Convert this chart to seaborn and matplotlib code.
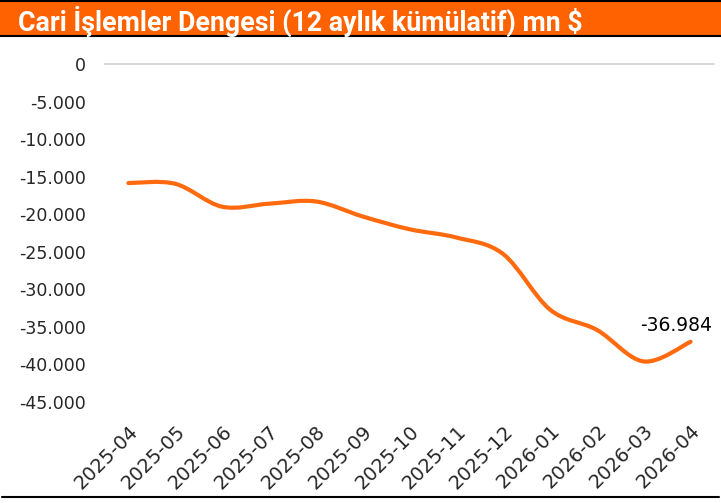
import numpy as np
import pandas as pd
import matplotlib
matplotlib.use("Agg")
import matplotlib.pyplot as plt
import seaborn as sns
from matplotlib.path import Path
from matplotlib.patches import PathPatch, Rectangle
from matplotlib.lines import Line2D
from matplotlib.ticker import FuncFormatter, MultipleLocator

# ---- data ----
months = ["2025-04", "2025-05", "2025-06", "2025-07", "2025-08", "2025-09",
          "2025-10", "2025-11", "2025-12", "2026-01", "2026-02", "2026-03",
          "2026-04"]
balance = [-15850, -15950, -19000, -18600, -18300, -20300,
           -22000, -23100, -25300, -32700, -35400, -39600, -36984]
title = "Cari İşlemler Dengesi (12 aylık kümülatif) mn $"

LINE = "#FF6A0E"
BAR = "#FF6200"

sns.set_style("white")
plt.rcParams["font.family"] = ["DejaVu Sans"]

fig = plt.figure(figsize=(7.21, 5.03), dpi=100)
W, H = 721, 503
ax = fig.add_axes([105 / W, 1 - 402 / H, (714 - 105) / W, (402 - 64) / H])

df = pd.DataFrame({"ay": np.arange(len(months)), "deger": balance})
sns.lineplot(data=df, x="ay", y="deger", ax=ax, color=LINE, linewidth=3)
base_line = ax.lines[0]
base_line.set_visible(False)

# smooth (Excel-like) curve through the data points
xs = np.asarray(df["ay"], dtype=float)
ys = np.asarray(df["deger"], dtype=float)
P = np.column_stack([xs, ys])
verts = [tuple(P[0])]
codes = [Path.MOVETO]
n = len(P)
for i in range(n - 1):
    p0 = P[i - 1] if i > 0 else P[i]
    p1 = P[i]
    p2 = P[i + 1]
    p3 = P[i + 2] if i + 2 < n else P[i + 1]
    c1 = p1 + (p2 - p0) / 6.0
    c2 = p2 - (p3 - p1) / 6.0
    verts += [tuple(c1), tuple(c2), tuple(p2)]
    codes += [Path.CURVE4] * 3
patch = PathPatch(Path(verts, codes), facecolor="none", edgecolor=LINE,
                  linewidth=3, capstyle="round", joinstyle="round",
                  transform=ax.transData, zorder=3)
ax.add_patch(patch)

ax.set_xlim(-0.5, len(months) - 0.5)
ax.set_ylim(-45000, 0)
ax.yaxis.set_major_locator(MultipleLocator(5000))
ax.yaxis.set_major_formatter(FuncFormatter(lambda v, p: f"{v:,.0f}".replace(",", ".")))
ax.set_xticks(range(len(months)))
ax.set_xticklabels(months, rotation=45, ha="right", va="top",
                   rotation_mode="anchor")
ax.tick_params(axis="y", length=0, pad=14, labelsize=12.5)
ax.tick_params(axis="x", length=0, pad=14, labelsize=14)
for s in ax.spines.values():
    s.set_visible(False)
ax.grid(False)
ax.axhline(0, color="#D9D9D9", linewidth=1.5, clip_on=False, zorder=1)
ax.set_xlabel("")
ax.set_ylabel("")

# end label
ax.annotate(f"{balance[-1]:,.0f}".replace(",", "."),
            xy=(xs[-1], ys[-1]), xytext=(-14, 7), textcoords="offset pixels",
            ha="center", va="bottom", fontsize=13.5, color="black")

# title bar
fig.patches.append(Rectangle((0, 1 - 35 / H), 1, 33 / H, transform=fig.transFigure,
                             facecolor=BAR, edgecolor="none", zorder=0))
fig.lines.append(Line2D([0, 1], [1 - 1 / H, 1 - 1 / H], transform=fig.transFigure,
                        color="black", linewidth=1.5))
fig.lines.append(Line2D([0, 1], [1 - 36 / H, 1 - 36 / H], transform=fig.transFigure,
                        color="black", linewidth=1.5))
fig.lines.append(Line2D([2 / W, 719 / W], [1 - 497 / H, 1 - 497 / H], transform=fig.transFigure,
                        color="black", linewidth=1.5))
fig.text(18 / W, 1 - 31 / H, title, color="white", fontsize=19.3, fontweight="bold",
         family=["Roboto", "DejaVu Sans"], ha="left", va="baseline")

fig.savefig("out.png", dpi=100)
